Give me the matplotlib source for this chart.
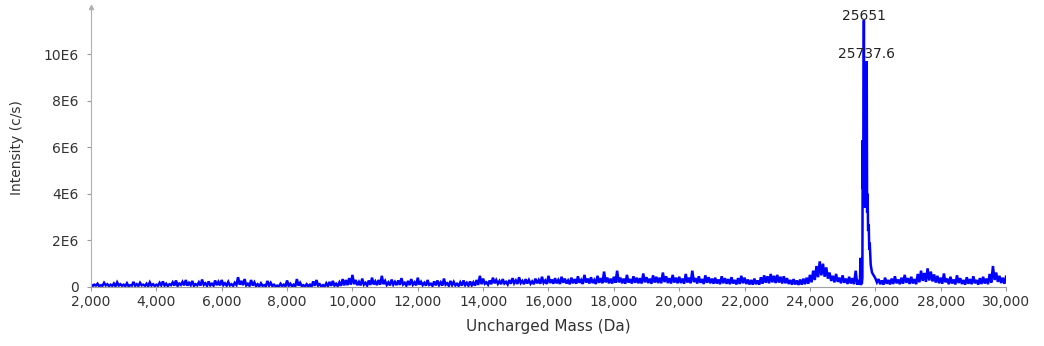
import numpy as np
import matplotlib
matplotlib.use("Agg")
import matplotlib.pyplot as plt
from matplotlib.ticker import FuncFormatter

# ---- data (intensity in units of 1E6 c/s) ----
# local maxima sampled every 100 Da (2000 .. 25400)
hi_mass_a = np.arange(2000, 25401, 100)
hi_a = [
    0.12,0.10,0.14,0.08,0.18,0.12,0.10,0.15,0.20,0.12,0.10,0.16,0.08,0.22,0.12,0.18,0.10,0.14,0.20,0.12,
    0.10,0.18,0.24,0.14,0.12,0.20,0.28,0.15,0.22,0.30,0.18,0.26,0.12,0.20,0.32,0.16,0.24,0.14,0.28,0.22,
    0.30,0.16,0.22,0.12,0.18,0.42,0.26,0.34,0.14,0.30,0.20,0.12,0.16,0.08,0.26,0.18,0.10,0.06,0.14,0.10,
    0.28,0.14,0.10,0.34,0.18,0.08,0.12,0.10,0.24,0.30,0.12,0.08,0.16,0.22,0.26,0.14,0.20,0.34,0.30,0.38,
    0.52,0.30,0.22,0.36,0.18,0.28,0.40,0.24,0.30,0.48,0.26,0.20,0.32,0.22,0.28,0.38,0.18,0.26,0.34,0.20,
    0.40,0.22,0.18,0.30,0.14,0.24,0.28,0.20,0.36,0.16,0.26,0.22,0.14,0.20,0.28,0.18,0.24,0.20,0.30,0.48,
    0.36,0.20,0.28,0.40,0.30,0.26,0.34,0.22,0.30,0.38,0.28,0.42,0.26,0.34,0.30,0.24,0.36,0.30,0.44,0.28,
    0.48,0.32,0.38,0.30,0.44,0.36,0.28,0.40,0.34,0.46,0.30,0.52,0.36,0.42,0.30,0.48,0.38,0.66,0.40,0.36,
    0.44,0.70,0.40,0.36,0.52,0.34,0.46,0.40,0.38,0.58,0.42,0.36,0.50,0.44,0.40,0.62,0.46,0.38,0.52,0.40,
    0.44,0.36,0.56,0.40,0.70,0.38,0.46,0.34,0.50,0.42,0.36,0.40,0.32,0.46,0.38,0.34,0.42,0.30,0.38,0.48,
    0.40,0.32,0.30,0.36,0.28,0.42,0.50,0.46,0.56,0.48,0.52,0.44,0.46,0.38,0.30,0.34,0.28,0.32,0.36,0.40,
    0.52,0.70,0.90,1.10,1.00,0.84,0.62,0.48,0.56,0.40,0.50,0.36,0.44,0.38,0.70,
]
# local minima sampled every 100 Da (2050 .. 25450)
lo_mass_a = np.arange(2050, 25451, 100)
lo_a = [
    0.04,0.06,0.03,0.05,0.07,0.04,0.05,0.03,0.06,0.05,0.04,0.03,0.06,0.05,0.04,0.07,0.05,0.03,0.06,0.04,
    0.05,0.07,0.06,0.04,0.08,0.06,0.05,0.09,0.07,0.06,0.08,0.05,0.07,0.06,0.09,0.05,0.07,0.06,0.08,0.07,
    0.08,0.06,0.07,0.05,0.09,0.10,0.08,0.07,0.05,0.06,0.04,0.03,0.05,0.03,0.06,0.04,0.03,0.02,0.04,0.03,
    0.05,0.03,0.02,0.06,0.04,0.02,0.03,0.02,0.05,0.06,0.03,0.02,0.04,0.05,0.06,0.04,0.05,0.07,0.08,0.10,
    0.12,0.08,0.07,0.10,0.06,0.09,0.11,0.08,0.10,0.12,0.09,0.07,0.10,0.08,0.09,0.11,0.06,0.08,0.10,0.07,
    0.10,0.08,0.06,0.09,0.05,0.07,0.08,0.06,0.10,0.05,0.08,0.07,0.05,0.06,0.08,0.06,0.07,0.06,0.09,0.12,
    0.14,0.10,0.12,0.16,0.14,0.12,0.15,0.11,0.14,0.16,0.13,0.17,0.12,0.15,0.14,0.12,0.16,0.14,0.18,0.13,
    0.17,0.14,0.16,0.13,0.18,0.15,0.12,0.16,0.14,0.18,0.13,0.19,0.15,0.17,0.13,0.18,0.16,0.20,0.16,0.15,
    0.18,0.20,0.16,0.14,0.19,0.15,0.18,0.16,0.15,0.20,0.17,0.14,0.19,0.17,0.16,0.21,0.17,0.15,0.19,0.16,
    0.17,0.14,0.19,0.16,0.21,0.15,0.18,0.13,0.18,0.16,0.14,0.15,0.12,0.16,0.14,0.12,0.15,0.11,0.13,0.16,
    0.13,0.11,0.10,0.12,0.10,0.14,0.18,0.16,0.20,0.17,0.19,0.15,0.16,0.13,0.10,0.11,0.09,0.10,0.12,0.14,
    0.20,0.30,0.42,0.50,0.44,0.36,0.26,0.20,0.22,0.16,0.18,0.13,0.15,0.12,0.10,
]
# main protein peak region
peak_mass = [25500, 25530, 25545, 25560, 25575, 25590, 25605, 25615, 25625, 25635, 25651,
             25665, 25675, 25690, 25700, 25715, 25737.6, 25750, 25765, 25780, 25800,
             25815, 25830, 25860, 25900, 25950, 26000, 26050]
peak_int = [0.30, 0.10, 1.25, 0.08, 0.20, 0.15, 0.40, 6.30, 4.20, 6.00, 11.45,
            4.60, 5.80, 3.40, 5.20, 3.60, 9.70, 3.20, 4.00, 2.40, 2.70,
            1.60, 1.90, 0.95, 0.62, 0.50, 0.38, 0.20]
# local maxima after the peak (26100 .. 30000)
hi_mass_b = np.arange(26100, 30001, 100)
hi_b = [
    0.34,0.28,0.40,0.30,0.36,0.46,0.32,0.40,0.52,0.38,0.44,0.34,0.56,0.70,0.60,0.80,0.66,0.54,0.48,
    0.40,0.58,0.36,0.44,0.32,0.50,0.38,0.30,0.42,0.34,0.46,0.30,0.38,0.44,0.36,0.56,0.90,0.62,0.48,0.40,
    0.44,
]
lo_mass_b = np.arange(26150, 29951, 100)
lo_b = [
    0.12,0.10,0.14,0.11,0.13,0.16,0.12,0.14,0.18,0.13,0.15,0.12,0.20,0.26,0.22,0.28,0.24,0.19,0.16,
    0.14,0.20,0.12,0.15,0.11,0.17,0.13,0.10,0.14,0.12,0.16,0.10,0.13,0.15,0.12,0.19,0.30,0.22,0.17,0.14,
]
peak_labels = ["25651", "25737.6"]
peak_label_mass = [25651, 25737.6]
x_ticks = np.arange(2000, 30001, 2000)
y_ticks = [0, 2e6, 4e6, 6e6, 8e6, 10e6]
y_ticklabels = ["0", "2E6", "4E6", "6E6", "8E6", "10E6"]

# ---- assemble ----
mass = np.concatenate([hi_mass_a, lo_mass_a, peak_mass, hi_mass_b, lo_mass_b]).astype(float)
inten = np.concatenate([hi_a, lo_a, peak_int, hi_b, lo_b]) * 1e6
order = np.argsort(mass)
mass, inten = mass[order], inten[order]

plt.rcParams['font.family'] = ['DejaVu Sans']
fig = plt.figure(figsize=(10.44, 3.46), dpi=100)
ax = fig.add_axes([91/1044, 1-287/346, (1006-91)/1044, (287-7.4)/346])
ax.plot(mass, inten, color=(0, 0, 1), lw=1.8, solid_joinstyle='miter')
ax.set_xlim(2000, 30000)
ax.set_ylim(0, 12e6)

ax.set_xticks(x_ticks)
ax.xaxis.set_major_formatter(FuncFormatter(lambda v, p: f"{int(v):,}"))
ax.set_yticks(y_ticks)
ax.set_yticklabels(y_ticklabels)

tick_color = '#9a9a9a'
label_color = '#333333'
ax.tick_params(axis='both', direction='out', length=3, width=0.8, color=tick_color,
               labelsize=10, labelcolor=label_color)
ax.tick_params(axis='y', pad=6)
ax.tick_params(axis='x', pad=3)
for s in ['top', 'right']:
    ax.spines[s].set_visible(False)
ax.spines['left'].set_color('#b0b0b0')
ax.spines['left'].set_linestyle((0, (2, 1)))
ax.spines['left'].set_linewidth(0.8)
ax.spines['bottom'].set_color('#a0a0a0')
ax.spines['bottom'].set_linewidth(0.8)
# small arrow at top of y axis
ax.plot([2000], [12e6], marker='^', color='#b0b0b0', markersize=3, clip_on=False)

ax.set_xlabel("Uncharged Mass (Da)", fontsize=11, color=label_color, labelpad=7)
ax.set_ylabel("Intensity (c/s)", fontsize=10, color=label_color, labelpad=14)

for m, lab, off in zip(peak_label_mass, peak_labels, [3, 5]):
    idx = np.argmin(np.abs(mass - m))
    ax.annotate(lab, (m, inten[idx]), xytext=(0, off), textcoords='offset points',
                ha='center', va='center', fontsize=10, color='#222222')

fig.savefig("out.png", dpi=100)
